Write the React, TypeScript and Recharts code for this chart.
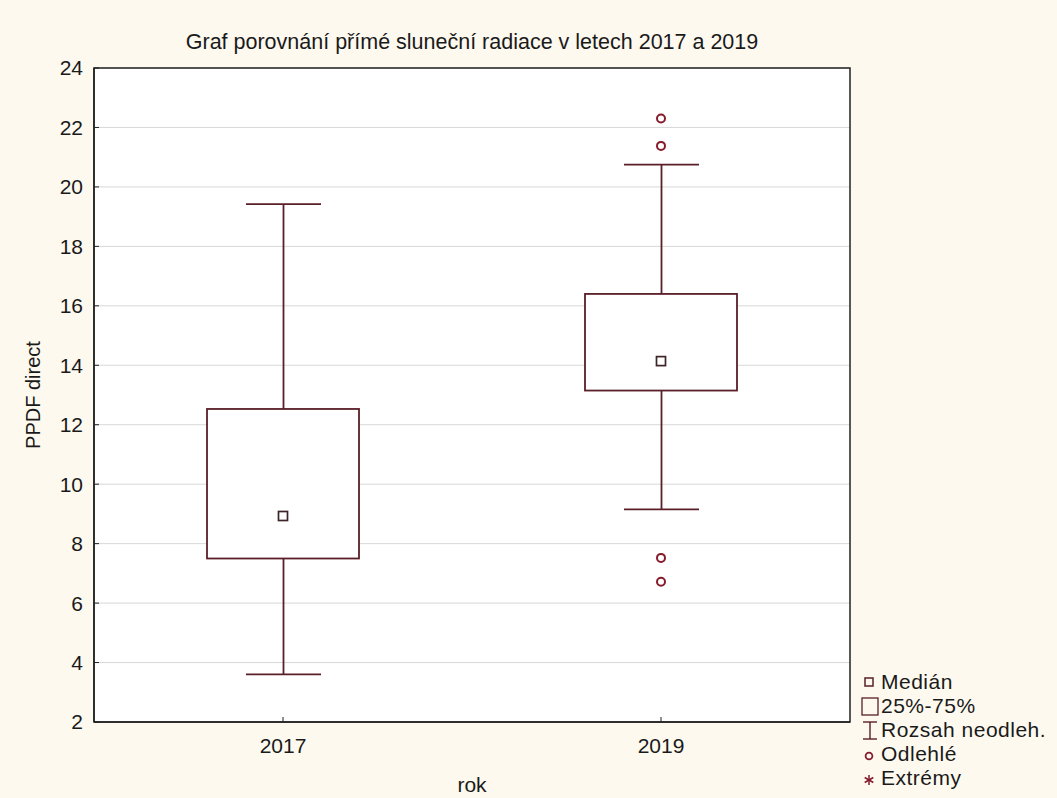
import React from 'react';
import {
  ComposedChart,
  Bar,
  Scatter,
  XAxis,
  YAxis,
  CartesianGrid,
  ReferenceArea,
  Label,
} from 'recharts';

// box plot summary per year
const years = ['2017', '2019'];
const medians = [8.93, 14.14];
const lowerQuartiles = [7.5, 13.15];
const upperQuartiles = [12.53, 16.4];
const whiskerLows = [3.6, 9.15];
const whiskerHighs = [19.42, 20.75];

// outliers (all in 2019)
const outlierYears = ['2019', '2019', '2019', '2019'];
const outlierValues = [22.3, 21.38, 7.52, 6.72];

const yTicks = [2, 4, 6, 8, 10, 12, 14, 16, 18, 20, 22, 24];

const FONT = '"Liberation Sans", Arial, sans-serif';
const TEXT = '#1a1a1a';
const LINE = '#5a1f28';
const POINT = '#861b2b';

const boxData = years.map((year, i) => ({
  year,
  whisker: [whiskerLows[i], whiskerHighs[i]],
  box: [lowerQuartiles[i], upperQuartiles[i]],
  median: medians[i],
}));

const outlierData = outlierYears.map((year, i) => ({ year, value: outlierValues[i] }));

const WhiskerShape = (props: any) => {
  const { x, y, width, height } = props;
  const cx = x + width / 2;
  return (
    <g stroke={LINE} strokeWidth={1.8} fill="none">
      <line x1={cx} y1={y} x2={cx} y2={y + height} />
      <line x1={x} y1={y} x2={x + width} y2={y} />
      <line x1={x} y1={y + height} x2={x + width} y2={y + height} />
    </g>
  );
};

const BoxShape = (props: any) => {
  const { x, y, width, height } = props;
  return <rect x={x} y={y} width={width} height={height} fill="#fff" stroke={LINE} strokeWidth={1.8} />;
};

const MedianShape = (props: any) => {
  const { cx, cy } = props;
  return <rect x={cx - 4.5} y={cy - 4.5} width={9} height={9} fill="#fff" stroke="#3d2427" strokeWidth={1.7} />;
};

const OutlierShape = (props: any) => {
  const { cx, cy } = props;
  return <circle cx={cx} cy={cy} r={4} fill="#fff" stroke={POINT} strokeWidth={2} />;
};

const legendItems = ['Medián', '25%-75%', 'Rozsah neodleh.', 'Odlehlé', 'Extrémy'];

const LegendIcon = ({ index }: { index: number }) => {
  if (index === 0) return <rect x={4} y={5} width={8} height={8} fill="none" stroke={LINE} strokeWidth={1.5} />;
  if (index === 1) return <rect x={1} y={1} width={16} height={17} fill="none" stroke={LINE} strokeWidth={1.3} />;
  if (index === 2)
    return (
      <g stroke={LINE} strokeWidth={1.4}>
        <line x1={2} y1={1} x2={16} y2={1} />
        <line x1={9} y1={1} x2={9} y2={18} />
        <line x1={2} y1={18} x2={16} y2={18} />
      </g>
    );
  if (index === 3) return <circle cx={8} cy={11} r={3.4} fill="none" stroke={POINT} strokeWidth={1.8} />;
  return (
    <g stroke={POINT} strokeWidth={1.5}>
      <line x1={8} y1={6} x2={8} y2={16} />
      <line x1={3.7} y1={8.5} x2={12.3} y2={13.5} />
      <line x1={3.7} y1={13.5} x2={12.3} y2={8.5} />
    </g>
  );
};

const App: React.FC = () => {
  return (
    <div style={{ position: 'relative', width: 1057, height: 798, background: '#fdf9ef', fontFamily: FONT }}>
      <style>{'body { margin: 0; }'}</style>
      <div
        style={{
          position: 'absolute',
          top: 30,
          left: 94,
          width: 756,
          textAlign: 'center',
          fontSize: 21.5,
          color: TEXT,
        }}
      >
        Graf porovnání přímé sluneční radiace v letech 2017 a 2019
      </div>
      <ComposedChart
        width={1057}
        height={798}
        data={boxData}
        margin={{ top: 68, right: 207, bottom: 0, left: 0 }}
        style={{ fontFamily: FONT }}
      >
        <CartesianGrid vertical={false} stroke="#d8d8d8" fill="#ffffff" xAxisId="main" />
        <XAxis
          xAxisId="main"
          dataKey="year"
          type="category"
          allowDuplicatedCategory={false}
          height={76}
          tickSize={-5}
          tickMargin={21}
          tick={{ fill: TEXT, fontSize: 21 }}
          tickLine={{ stroke: '#222' }}
          axisLine={{ stroke: '#222', strokeWidth: 1.5 }}
        >
          <Label value="rok" position="insideBottom" offset={6} style={{ fill: TEXT, fontSize: 21 }} />
        </XAxis>
        <XAxis xAxisId="box" dataKey="year" type="category" orientation="top" height={0} hide />
        <YAxis
          domain={[2, 24]}
          ticks={yTicks}
          type="number"
          width={94}
          interval={0}
          tickSize={-5}
          tickMargin={16}
          tick={{ fill: TEXT, fontSize: 21 }}
          tickLine={{ stroke: '#222' }}
          axisLine={{ stroke: '#222', strokeWidth: 1.5 }}
        >
          <Label
            content={({ viewBox }: any) => {
              const cx = viewBox.x + 33;
              const cy = viewBox.y + viewBox.height / 2;
              return (
                <text
                  x={cx}
                  y={cy}
                  transform={`rotate(-90 ${cx} ${cy})`}
                  textAnchor="middle"
                  dominantBaseline="central"
                  fill={TEXT}
                  fontSize={20}
                >
                  PPDF direct
                </text>
              );
            }}
          />
        </YAxis>
        <Bar xAxisId="main" dataKey="whisker" barSize={75} shape={<WhiskerShape />} isAnimationActive={false} />
        <Bar xAxisId="box" dataKey="box" barSize={152} shape={<BoxShape />} isAnimationActive={false} />
        <Scatter xAxisId="main" dataKey="median" shape={<MedianShape />} isAnimationActive={false} />
        <Scatter
          xAxisId="main"
          data={outlierData}
          dataKey="value"
          shape={<OutlierShape />}
          isAnimationActive={false}
        />
        <ReferenceArea xAxisId="main" y1={2} y2={24} fill="none" stroke="#222" strokeWidth={1.5} ifOverflow="visible" />
      </ComposedChart>
      <div style={{ position: 'absolute', left: 861, top: 670, color: TEXT, fontSize: 21, letterSpacing: 0.5 }}>
        {legendItems.map((item, i) => (
          <div key={item} style={{ display: 'flex', alignItems: 'center', height: 24 }}>
            <svg width={18} height={19} style={{ marginRight: 2 }}>
              <LegendIcon index={i} />
            </svg>
            <span style={{ lineHeight: '24px' }}>{item}</span>
          </div>
        ))}
      </div>
    </div>
  );
};

export default App;
